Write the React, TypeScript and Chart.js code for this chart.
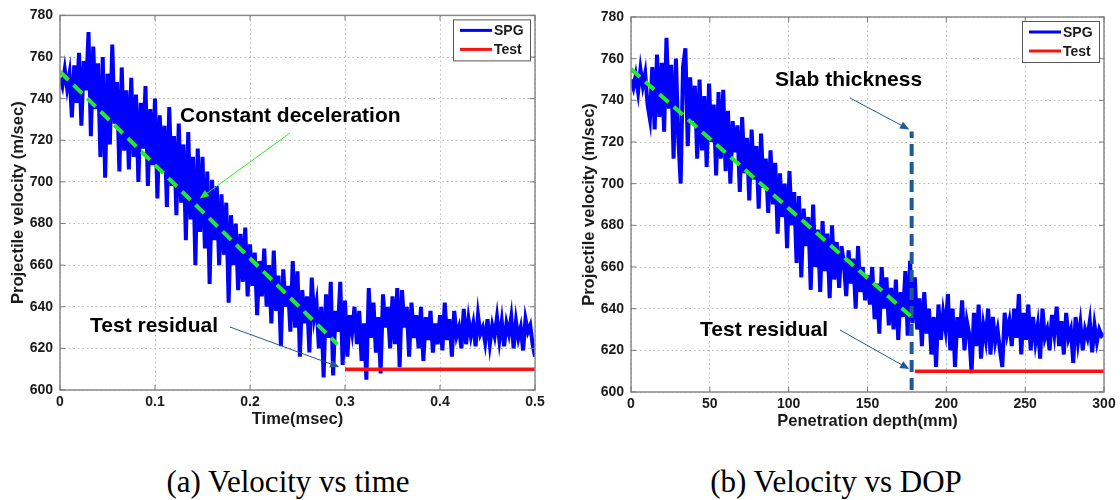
import React, { useEffect, useRef } from "react";
import { Chart, registerables } from "chart.js";

Chart.register(...registerables);

// ---------------- DATA ----------------
// (a) Velocity vs time: SPG velocity samples (m/sec), sampled every 0.0025 msec from 0 to 0.5 msec
const SAMPLE_STEP_MS = 0.0025;
const spgVelocityVsTime = [
  750, 746, 754, 745, 752, 731, 756, 738, 762, 727,
  758, 744, 772, 722, 765, 735, 757, 712, 760, 702,
  752, 718, 766, 728, 748, 705, 755, 715, 744, 706,
  750, 712, 742, 700, 738, 716, 746, 698, 735, 708,
  740, 692, 732, 705, 727, 688, 736, 698, 722, 684,
  728, 690, 718, 672, 724, 682, 712, 660, 716, 676,
  712, 668, 705, 651, 701, 672, 698, 660, 694, 665,
  690, 642, 684, 660, 680, 648, 675, 652, 678, 645,
  670, 650, 666, 636, 662, 645, 668, 640, 660, 632,
  667, 638, 655, 621, 658, 640, 650, 628, 662, 630,
  657, 616, 648, 632, 645, 618, 654, 635, 642, 620,
  640, 606, 646, 625, 652, 607, 638, 628, 652, 612,
  643, 616, 636, 628, 640, 622, 638, 614, 632, 605,
  649, 625, 642, 618, 635, 608, 646, 630, 640, 620,
  645, 622, 649, 611, 648, 630, 640, 616, 642, 625,
  636, 620, 640, 614, 635, 624, 638, 618, 632, 622,
  636, 619, 642, 624, 634, 616, 638, 626, 630, 620,
  639, 622, 634, 626, 632, 621, 636, 627, 630, 623,
  634, 622, 631, 626, 635, 624, 633, 621, 632, 627,
  635, 620, 633, 625, 630, 619, 634, 628, 631, 622, 616,
];
const testTime = [0.3, 0.5];
const testVelocityTime = [610, 610];
const fitTime = [0, 0.292];
const fitVelocityTime = [753, 622];

// (b) Velocity vs DOP: SPG velocity samples (m/sec), sampled every 1.5 mm from 0 to 300 mm
const SAMPLE_STEP_MM = 1.5;
const spgVelocityVsDepth = [
  750, 746, 752, 744, 755, 747, 753, 738, 731, 756,
  726, 762, 732, 758, 725, 770, 736, 757, 712, 760,
  722, 700, 756, 765, 718, 751, 730, 747, 712, 750,
  716, 742, 708, 748, 720, 738, 704, 744, 712, 745,
  706, 735, 700, 730, 715, 728, 696, 732, 705, 722,
  692, 726, 702, 718, 688, 724, 698, 712, 686, 716,
  690, 710, 676, 705, 684, 700, 669, 706, 680, 696,
  662, 694, 655, 688, 670, 684, 649, 690, 660, 678,
  648, 682, 658, 676, 645, 680, 654, 672, 650, 670,
  662, 646, 668, 652, 664, 640, 670, 648, 660, 644,
  656, 642, 660, 635, 652, 628, 660, 640, 655, 632,
  650, 630, 654, 625, 648, 636, 658, 627, 663, 633,
  655, 630, 645, 622, 648, 628, 640, 618, 636, 612,
  642, 625, 638, 630, 647, 620, 640, 612, 636, 626,
  644, 620, 634, 628, 609, 638, 622, 642, 616, 632,
  625, 640, 618, 636, 624, 630, 620, 612, 638, 628,
  634, 622, 640, 626, 647, 618, 638, 625, 642, 620,
  636, 624, 632, 616, 640, 626, 630, 620, 637, 628,
  641, 622, 634, 618, 638, 626, 630, 614, 636, 624,
  633, 620, 630, 626, 634, 619, 632, 624, 630, 627, 628,
];
const testDepth = [180, 300];
const testVelocityDepth = [610, 610];
const fitDepth = [0, 178];
const fitVelocityDepth = [755, 636];
const slabDepth = [178, 178];
const slabVelocity = [601, 725];

const legendLabels = ["SPG", "Test"];
const captions = ["(a) Velocity vs time", "(b) Velocity vs DOP"];

// ---------------- STYLE ----------------
const FONT = '"Liberation Sans", Arial, Helvetica, sans-serif';
const SERIF = '"Liberation Serif", "Times New Roman", Times, serif';
const BLUE = "#0000ff";
const RED = "#ff1010";
const GREEN = "#22ee22";
const NAVY = "#1f5a96";
const TEXT = "#1a1a1a";

type Note = { text: string; x: number; y: number };
type Arrow = { from: [number, number]; to: [number, number]; color: string; width: number; head: number };

function pts(xs: number[], ys: number[]) {
  return ys.map((y, i) => ({ x: xs[i], y }));
}
function sampled(ys: number[], step: number) {
  return ys.map((y, i) => ({ x: +(i * step).toFixed(6), y }));
}

function makeOverlay(notes: Note[], arrows: Arrow[]) {
  return {
    id: "overlay",
    afterDraw(chart: any) {
      const { ctx, chartArea: a, scales } = chart;
      const xs = scales.x, ys = scales.y;
      ctx.save();
      // frame
      ctx.strokeStyle = "#8a8a8a";
      ctx.lineWidth = 1.5;
      ctx.strokeRect(a.left, a.top, a.right - a.left, a.bottom - a.top);
      ctx.lineWidth = 1;
      ctx.strokeStyle = "#7a7a7a";
      ctx.beginPath();
      xs.ticks.forEach((t: any) => {
        const px = xs.getPixelForValue(t.value);
        ctx.moveTo(px, a.bottom); ctx.lineTo(px, a.bottom - 5);
        ctx.moveTo(px, a.top); ctx.lineTo(px, a.top + 5);
      });
      ys.ticks.forEach((t: any) => {
        const py = ys.getPixelForValue(t.value);
        ctx.moveTo(a.left, py); ctx.lineTo(a.left + 5, py);
        ctx.moveTo(a.right, py); ctx.lineTo(a.right - 5, py);
      });
      ctx.stroke();

      // arrows
      arrows.forEach((ar) => {
        const tx = xs.getPixelForValue(ar.to[0]);
        const ty = ys.getPixelForValue(ar.to[1]);
        const [fx, fy] = ar.from;
        const ang = Math.atan2(ty - fy, tx - fx);
        ctx.strokeStyle = ar.color;
        ctx.fillStyle = ar.color;
        ctx.lineWidth = ar.width;
        ctx.beginPath();
        ctx.moveTo(fx, fy);
        ctx.lineTo(tx - Math.cos(ang) * ar.head * 0.8, ty - Math.sin(ang) * ar.head * 0.8);
        ctx.stroke();
        ctx.beginPath();
        ctx.moveTo(tx, ty);
        ctx.lineTo(tx - ar.head * Math.cos(ang - 0.4), ty - ar.head * Math.sin(ang - 0.4));
        ctx.lineTo(tx - ar.head * Math.cos(ang + 0.4), ty - ar.head * Math.sin(ang + 0.4));
        ctx.closePath();
        ctx.fill();
      });

      // notes
      ctx.fillStyle = "#000";
      ctx.font = `bold 21px ${FONT}`;
      ctx.textAlign = "left";
      ctx.textBaseline = "middle";
      notes.forEach((n) => ctx.fillText(n.text, n.x, n.y));

      // legend
      const items = chart.data.datasets.filter((d: any) => legendLabels.includes(d.label));
      const bw = 77, bh = 41;
      const bx = a.right - 5 - bw, by = a.top + 4;
      ctx.fillStyle = "#ffffff";
      ctx.fillRect(bx, by, bw, bh);
      ctx.strokeStyle = "#555";
      ctx.lineWidth = 1;
      ctx.strokeRect(bx + 0.5, by + 0.5, bw, bh);
      ctx.font = `bold 14px ${FONT}`;
      items.forEach((d: any, i: number) => {
        const ly = by + 11 + i * 19;
        ctx.strokeStyle = d.borderColor;
        ctx.lineWidth = 3;
        ctx.beginPath();
        ctx.moveTo(bx + 7, ly);
        ctx.lineTo(bx + 39, ly);
        ctx.stroke();
        ctx.fillStyle = TEXT;
        ctx.fillText(d.label, bx + 41, ly + 1);
      });
      ctx.restore();
    },
  };
}

type Spec = {
  width: number;
  height: number;
  padTop: number;
  padRight: number;
  yAxisWidth: number;
  yTitlePad: number;
  xMin: number;
  xMax: number;
  xStep: number;
  xTitle: string;
  fmt: (v: number) => string;
  datasets: any[];
  notes: Note[];
  arrows: Arrow[];
};

function buildConfig(s: Spec): any {
  const tickFont = { family: FONT, size: 14, weight: "bold" as const };
  const titleFont = { family: FONT, size: 16.5, weight: "bold" as const };
  return {
    type: "line",
    data: { datasets: s.datasets },
    options: {
      animation: false,
      responsive: false,
      devicePixelRatio: 1,
      layout: { padding: { left: 0, top: s.padTop, right: s.padRight, bottom: 0 } },
      plugins: { legend: { display: false }, tooltip: { enabled: false } },
      elements: { point: { radius: 0 }, line: { tension: 0 } },
      scales: {
        x: {
          type: "linear",
          min: s.xMin,
          max: s.xMax,
          ticks: {
            stepSize: s.xStep,
            callback: (v: number) => s.fmt(v),
            font: tickFont,
            color: TEXT,
            padding: 4,
            maxRotation: 0,
            autoSkip: false,
          },
          grid: { color: "#b8b8b8", lineWidth: 1, drawTicks: false },
          border: { display: false, dash: [1.5, 3] },
          title: {
            display: true,
            text: s.xTitle,
            font: titleFont,
            color: TEXT,
            padding: { top: 0, bottom: 11 },
          },
          afterFit: (sc: any) => {
            sc.height = 50;
          },
        },
        y: {
          type: "linear",
          min: 600,
          max: 780,
          ticks: { stepSize: 20, font: tickFont, color: TEXT, padding: 7 },
          grid: { color: "#b8b8b8", lineWidth: 1, drawTicks: false },
          border: { display: false, dash: [1.5, 3] },
          title: {
            display: true,
            text: "Projectile velocity (m/sec)",
            font: titleFont,
            color: TEXT,
            padding: { top: s.yTitlePad, bottom: 0 },
          },
          afterFit: (sc: any) => {
            sc.width = s.yAxisWidth;
          },
        },
      },
    },
    plugins: [makeOverlay(s.notes, s.arrows)],
  };
}

function Panel({ spec, left, top }: { spec: Spec; left: number; top: number }) {
  const ref = useRef<HTMLCanvasElement>(null);
  useEffect(() => {
    const chart = new Chart(ref.current as HTMLCanvasElement, buildConfig(spec));
    return () => chart.destroy();
  }, []);
  return (
    <div style={{ position: "absolute", left, top, width: spec.width, height: spec.height }}>
      <canvas ref={ref} width={spec.width} height={spec.height} style={{ width: spec.width, height: spec.height, display: "block" }} />
    </div>
  );
}

const lineDs = (label: string, data: any[], color: string, width: number, order: number, dash?: number[]) => ({
  label,
  data,
  borderColor: color,
  backgroundColor: color,
  borderWidth: width,
  pointRadius: 0,
  fill: false,
  order,
  borderDash: dash || [],
});

const timeSpec: Spec = {
  width: 560,
  height: 440,
  padTop: 15,
  padRight: 25,
  yAxisWidth: 60,
  yTitlePad: 9,
  xMin: 0,
  xMax: 0.5,
  xStep: 0.1,
  xTitle: "Time(msec)",
  fmt: (v) => String(Math.round(v * 10) / 10),
  datasets: [
    lineDs("SPG", sampled(spgVelocityVsTime, SAMPLE_STEP_MS), BLUE, 4, 3),
    lineDs("Test", pts(testTime, testVelocityTime), RED, 3.5, 1),
    lineDs("Constant deceleration", pts(fitTime, fitVelocityTime), GREEN, 4, 0, [12, 7]),
  ],
  notes: [
    { text: "Constant deceleration", x: 180, y: 116 },
    { text: "Test residual", x: 90, y: 326 },
  ],
  arrows: [
    { from: [290, 133], to: [0.147, 692], color: GREEN, width: 1, head: 10 },
    { from: [230, 327], to: [0.294, 611], color: NAVY, width: 1, head: 10 },
  ],
};

const depthSpec: Spec = {
  width: 560,
  height: 442,
  padTop: 17,
  padRight: 16,
  yAxisWidth: 71,
  yTitlePad: 20,
  xMin: 0,
  xMax: 300,
  xStep: 50,
  xTitle: "Penetration depth(mm)",
  fmt: (v) => String(Math.round(v)),
  datasets: [
    lineDs("SPG", sampled(spgVelocityVsDepth, SAMPLE_STEP_MM), BLUE, 4, 3),
    lineDs("Test", pts(testDepth, testVelocityDepth), RED, 3.5, 1),
    lineDs("Constant deceleration", pts(fitDepth, fitVelocityDepth), GREEN, 4, 0, [12, 7]),
    lineDs("Slab thickness", pts(slabDepth, slabVelocity), NAVY, 4, 2, [12, 6]),
  ],
  notes: [
    { text: "Slab thickness", x: 215, y: 80 },
    { text: "Test residual", x: 140, y: 330 },
  ],
  arrows: [
    { from: [290, 98], to: [176.5, 726], color: NAVY, width: 1, head: 10 },
    { from: [280, 330], to: [176.5, 611], color: NAVY, width: 1, head: 10 },
  ],
};

export default function App() {
  return (
    <div style={{ position: "absolute", left: 0, top: 0, width: 1120, height: 500, background: "#fff", overflow: "hidden" }}>
      <Panel spec={timeSpec} left={0} top={0} />
      <Panel spec={depthSpec} left={560} top={0} />
      {captions.map((c, i) => (
        <div
          key={c}
          style={{
            position: "absolute",
            left: i === 0 ? 8 : 556,
            top: 464,
            width: 560,
            textAlign: "center",
            fontFamily: SERIF,
            fontSize: 31,
            lineHeight: "36px",
            color: "#000",
          }}
        >
          {c}
        </div>
      ))}
    </div>
  );
}
